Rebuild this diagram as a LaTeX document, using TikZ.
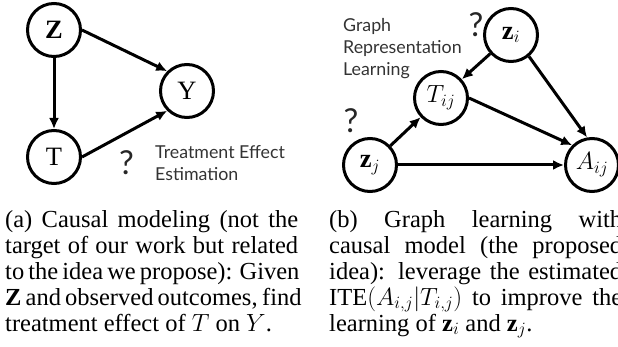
\documentclass[tikz,border=0pt]{standalone}
\usepackage{fontspec}
\setmainfont{Liberation Serif}
\newfontfamily\labelfont{Lato}
\usetikzlibrary{arrows.meta}
\begin{document}
\begin{tikzpicture}[x=1pt,y=-1pt,
  var/.style={circle,draw,line width=3pt,minimum size=53pt,inner sep=0pt,font=\fontsize{26.5}{30}\selectfont},
  edge/.style={line width=3pt,-{Latex[length=11pt,width=10pt]}},
  lbl/.style={font=\labelfont\fontsize{17.8}{22}\selectfont,text=black!80,inner sep=0pt,anchor=base west},
  qm/.style={font=\labelfont\fontsize{33}{33}\selectfont,text=black!85,inner sep=0pt,anchor=base},
  captxt/.style={inner sep=0pt,anchor=base west,font=\fontsize{24.5}{26}\selectfont}]
\useasboundingbox (0,0) rectangle (618,347);
\clip (0,0) rectangle (618,347);
% left panel
\node[var] (Z) at (54,30) {$\mathbf{Z}$};
\node[var] (Y) at (187,91) {$\mathrm{Y}$};
\node[var] (T) at (54,157) {$\mathrm{T}$};
\draw[edge] (Z.east) -- (Y.north west);
\draw[edge] (Z) -- (T);
\draw[edge] (T.east) -- (Y.south west);
\node[qm] (q1) at (126.5,175) {?};
\node[lbl] (te1) at (155,159) {Treatment Effect};
\node[lbl] (te2) at (155,181) {Estimation};
% right panel
\node[var] (zi) at (511,35) {$\mathbf{z}_i$};
\node[var] (Tij) at (441,98) {$T_{ij}$};
\node[var] (zj) at (370,165) {$\mathbf{z}_j$};
\node[var] (Aij) at (592,165) {$A_{ij}$};
\draw[edge] (zi) -- (Tij);
\draw[edge] (zi.-50) -- (Aij.100);
\draw[edge] (Tij.east) -- (Aij.north west);
\draw[edge] (zj) -- (Tij);
\draw[edge] (zj) -- (Aij);
\node[qm] (q2) at (476,37) {?};
\node[qm] (q3) at (351,133) {?};
\node[lbl] (g1) at (343,32) {Graph};
\node[lbl] (g2) at (343,54) {Representation};
\node[lbl] (g3) at (343,76) {Learning};
% captions
\node[captxt] (a1) at (5,228) {\makebox[293pt][s]{(a) Causal modeling (not the}};
\node[captxt] (a2) at (5,253.75) {\makebox[293pt][s]{target of our work but related}};
\node[captxt] (a3) at (5,279.5) {\makebox[293pt][s]{to the idea we propose): Given}};
\node[captxt] (a4) at (5,305.25) {\makebox[293pt][s]{\textbf{Z} and observed outcomes, find}};
\node[captxt] (a5) at (5,331) {treatment effect of $T$ on $Y$.};
\node[captxt] (b1) at (329,228) {\makebox[293pt][s]{(b) Graph learning with}};
\node[captxt] (b2) at (329,253.75) {\makebox[293pt][s]{causal model (the proposed}};
\node[captxt] (b3) at (329,279.5) {\makebox[293pt][s]{idea): leverage the estimated}};
\node[captxt] (b4) at (329,305.25) {\makebox[293pt][s]{ITE$(A_{i,j}|T_{i,j})$ to improve the}};
\node[captxt] (b5) at (329,331) {learning of $\mathbf{z}_i$ and $\mathbf{z}_j$.};
\end{tikzpicture}
\end{document}
